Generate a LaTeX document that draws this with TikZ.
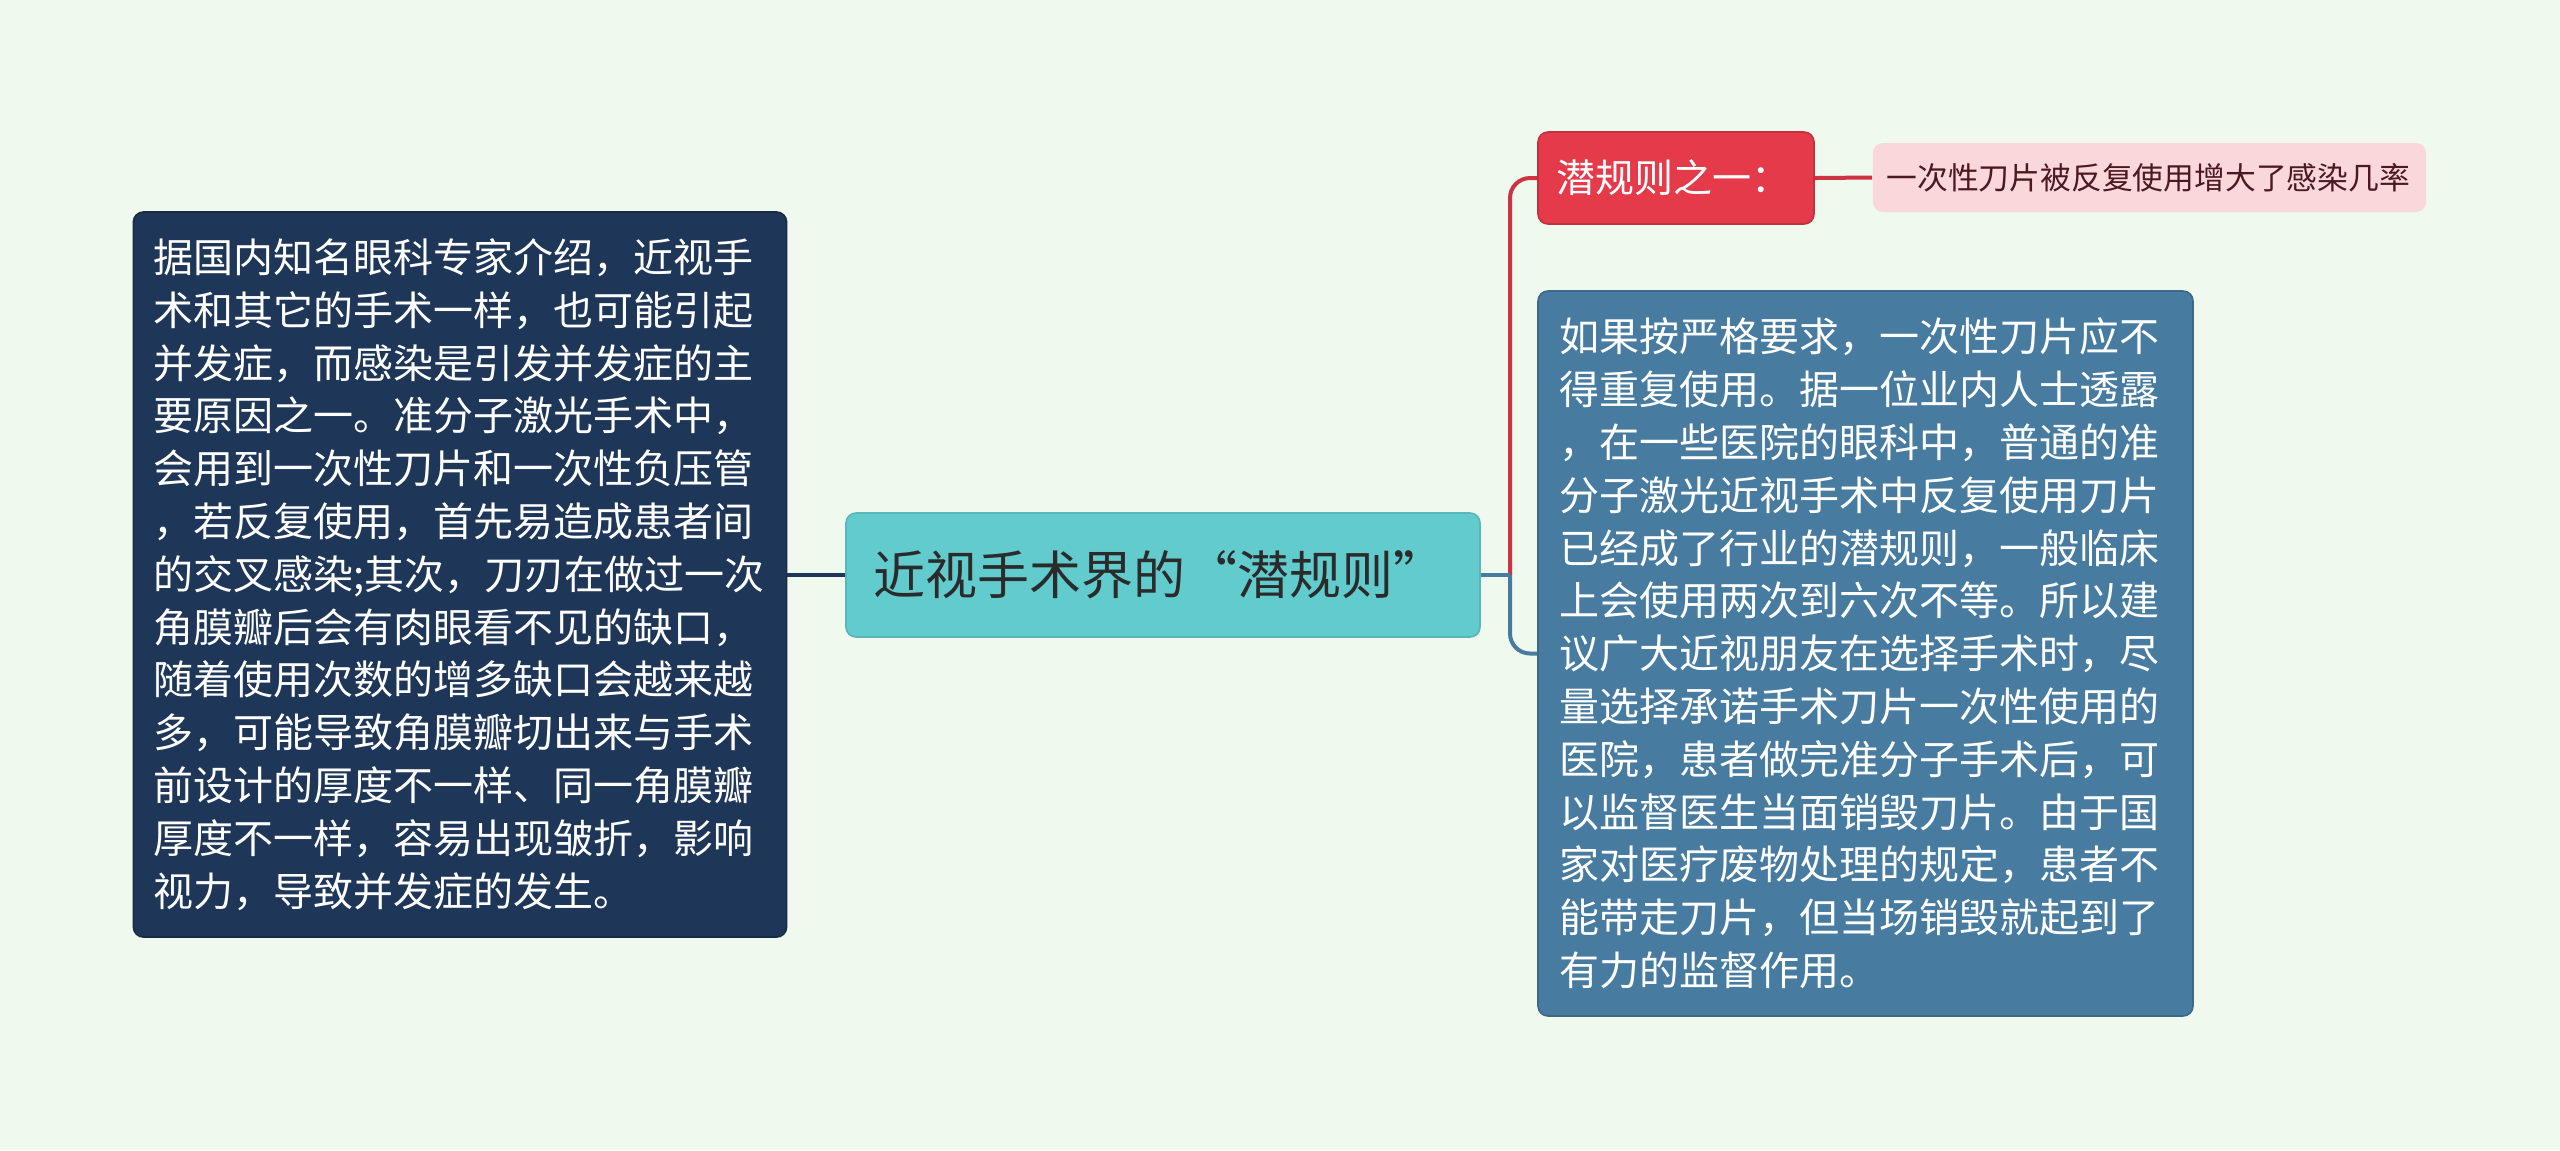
\documentclass[tikz,border=0pt]{standalone}
\usepackage{fontspec}
\setmainfont{Noto Sans CJK SC}
\newfontfamily\cjkpleine{Noto Sans CJK SC}[RawFeature=+fwid]
\definecolor{fond}{HTML}{F0F9EE}
\definecolor{marine}{HTML}{1E3658}
\definecolor{turquoise}{HTML}{62CBCD}
\definecolor{rouge}{HTML}{E43A4A}
\definecolor{rose}{HTML}{FAD7DA}
\definecolor{bleu}{HTML}{477BA0}
\definecolor{encre}{HTML}{2B2B2B}
\definecolor{bordeaux}{HTML}{4A1A1E}
\begin{document}
\begin{tikzpicture}[x=0.25pt,y=-0.25pt]
\tikzset{
	boite/.style={rounded corners=2.5pt, inner ysep=0pt, align=left},
	texte/.style={font=\fontsize{10pt}{13.2pt}\selectfont, text=white,
		inner xsep=4.9pt, text width=153.5pt, minimum height=181.25pt},
	lien/.style={line width=1pt, rounded corners=5pt}
}

 % le fond
  \fill[fond] (0,0) rectangle (2560,1150);
  \useasboundingbox (0,0) rectangle (2560,1150);

 % les boîtes
  \node[boite, texte, fill=marine, draw=marine!80!black] (gauche) at (460,574.5)
    {据国内知名眼科专家介绍，近视手\\术和其它的手术一样，也可能引起\\并发症，而感染是引发并发症的主\\要原因之一。准分子激光手术中，\\会用到一次性刀片和一次性负压管\\，若反复使用，首先易造成患者间\\的交叉感染;其次，刀刃在做过一次\\角膜瓣后会有肉眼看不见的缺口，\\随着使用次数的增多缺口会越来越\\多，可能导致角膜瓣切出来与手术\\前设计的厚度不一样、同一角膜瓣\\厚度不一样，容易出现皱折，影响\\视力，导致并发症的发生。};
  \node[boite, fill=turquoise, draw=turquoise!90!black, text=encre,
    font=\cjkpleine\fontsize{13pt}{15pt}\selectfont, inner xsep=6.75pt,
    text width=145pt, minimum height=31pt] (centre) at (1163,575)
    {近视手术界的“潜规则”};
  \node[boite, fill=rouge, draw=rouge!85!black, text=white,
    font=\fontsize{9.75pt}{11pt}\selectfont, inner xsep=4.5pt,
    text width=60pt, minimum height=23pt] (regle) at (1676,178)
    {潜规则之一：};
  \node[boite, fill=rose, text=bordeaux, font=\fontsize{7.7pt}{9pt}\selectfont,
    inner xsep=3.4pt, text width=131.5pt, minimum height=17.25pt] (lame) at (2149.5,177.5)
    {一次性刀片被反复使用增大了感染几率};
  \node[boite, texte, fill=bleu, draw=bleu!85!black, inner xsep=5.25pt,
    text width=153.25pt] (droite) at (1865.5,653.5)
    {如果按严格要求，一次性刀片应不\\得重复使用。据一位业内人士透露\\，在一些医院的眼科中，普通的准\\分子激光近视手术中反复使用刀片\\已经成了行业的潜规则，一般临床\\上会使用两次到六次不等。所以建\\议广大近视朋友在选择手术时，尽\\量选择承诺手术刀片一次性使用的\\医院，患者做完准分子手术后，可\\以监督医生当面销毁刀片。由于国\\家对医疗废物处理的规定，患者不\\能带走刀片，但当场销毁就起到了\\有力的监督作用。};

 % les liens
  \coordinate (noeud) at (1510,575);
  \draw[lien, marine] (gauche.east |- centre.west) -- (centre.west);
  \draw[lien, rouge!90!black] (noeud) |- (regle.west);
  \draw[lien, rouge!90!black] (regle.east) -- (lame.west);
  \draw[lien, bleu] (centre.east) -- (noeud);
  \draw[lien, bleu] (noeud) |- (droite.west);
\end{tikzpicture}
\end{document}
